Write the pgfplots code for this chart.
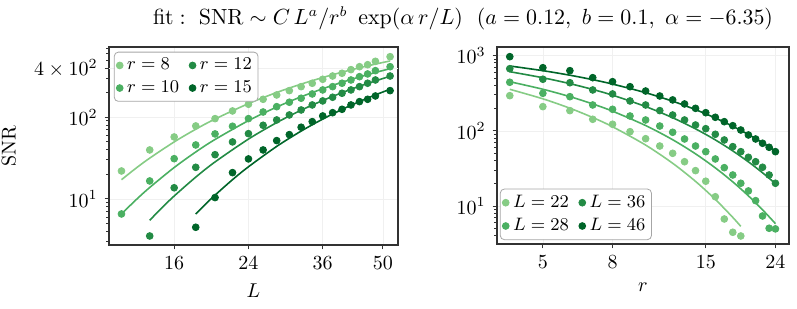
\documentclass[border=0pt]{standalone}
\usepackage{pgfplots}
\pgfplotsset{compat=1.18}
\definecolor{g1}{RGB}{134,204,133}
\definecolor{g2}{RGB}{75,176,98}
\definecolor{g3}{RGB}{35,139,69}
\definecolor{g4}{RGB}{0,101,41}
\definecolor{framec}{RGB}{50,50,50}
\pgfplotsset{
  fitl/.style={line width=0.8pt, smooth, no marks, forget plot},
  pts/.style={only marks, mark=*, mark size=1.7pt},
}
\begin{document}
\begin{tikzpicture}
\path[use as bounding box] (0,0) rectangle (398.5pt,154.5pt);
\node[font=\fontsize{10.5}{12}\selectfont] at (231.5pt,145.5pt)
 {$\mathrm{fit}:\ \mathrm{SNR}\sim C\,L^{a}/r^{b}\ \exp(\alpha\, r/L)\ \ (a=0.12,\ b=0.1,\ \alpha=-6.35)$};
% ---------------- left panel ----------------
\begin{axis}[scale only axis, xmode=log, ymode=log,
  axis line style={framec, line width=0.65pt},
  tick align=outside, xtick pos=left, ytick pos=left,
  major tick length=2.2pt, minor tick length=1.3pt,
  tick style={framec, line width=0.5pt},
  grid=major, major grid style={gray!12, line width=0.3pt},
  xminorticks=false,
  tick label style={font=\fontsize{10}{12}\selectfont},
  label style={font=\fontsize{10}{12}\selectfont},
  legend style={draw=gray!70, rounded corners=2pt, fill=white, inner sep=1pt,
    font=\fontsize{8.8}{10.5}\selectfont, at={(0.017,0.976)}, anchor=north west,
    /tikz/every even column/.append style={column sep=3pt}},
  legend cell align=left, legend columns=2,
  at={(54.5pt,32pt)}, anchor=south west,
  width=144.5pt, height=99pt,
  xmin=11.21, xmax=54.3, ymin=2.73, ymax=725,
  xtick={16,24,36,50}, xticklabels={16,24,36,50},
  ytick={10,100}, yticklabels={$10^{1}$,$10^{2}$},
  extra y ticks={400}, extra y tick labels={$4\times10^{2}$},
  minor ytick={3,4,5,6,7,8,9,20,30,40,50,60,70,80,90,200,300,500,600,700},
  xlabel={$L$}, ylabel={SNR},
]
\addplot[fitl, g1] coordinates {(12,17.2)(13,23.87)(14,31.6)(16,49.9)(18,71.4)(20,95.2)(24,146.9)(28,201.1)(32,254.5)(36,306.6)(40,356.2)(44,403.2)(48,447.5)(52,489.2)};
\addplot[fitl, g2] coordinates {(12,6.55)(13,9.79)(14,13.81)(16,24.24)(18,37.58)(20,53.47)(24,90.97)(28,133.4)(32,178.1)(36,223.4)(40,268.1)(44,311.5)(48,353.4)(52,393.6)};
\addplot[fitl, g3] coordinates {(14,5.48)(15,7.89)(16,10.86)(18,18.50)(20,28.39)(24,54.08)(28,86.0)(32,122.0)(36,160.4)(40,199.9)(44,239.6)(48,278.8)(52,317.5)};
\addplot[fitl, g4] coordinates {(18,6.54)(19,8.66)(20,11.13)(22,17.21)(24,24.76)(28,43.98)(32,67.73)(36,95.0)(40,124.7)(44,155.8)(48,187.9)(52,220.4)};
\addplot[pts, g1] coordinates {(12,22.0)(14,39.8)(16,57.4)(18,78.3)(20,96.2)(22,119.5)(24,144.3)(26,166)(28,187.5)(30,211.8)(32,237)(34,260.8)(36,291.7)(38,320)(40,345.6)(42,382.8)(44,416)(46,440)(48,484)(52,551.6)};
\addlegendentry{$r=8$}
\addplot[pts, g3] coordinates {(14,3.52)(16,13.7)(18,24.4)(20,34.8)(22,49.9)(24,63)(26,79.8)(28,92.7)(30,106.7)(32,122.8)(34,141.5)(36,158.5)(38,175.8)(40,196.8)(42,216)(44,237)(46,261)(48,286)(52,320)};
\addlegendentry{$r=12$}
\addplot[pts, g2] coordinates {(12,6.55)(14,16.6)(16,31.1)(18,45.8)(20,62.5)(22,77.6)(24,96.2)(26,116)(28,134.8)(30,152.8)(32,171)(34,192.9)(36,216)(38,237)(40,261)(42,286)(44,314)(46,339)(48,372)(52,416)};
\addlegendentry{$r=10$}
\addplot[pts, g4] coordinates {(18,4.5)(20,10.4)(22,21.0)(24,30.9)(26,39.8)(28,51.8)(30,61.3)(32,75.5)(34,88.4)(36,103.8)(38,113.8)(40,125.2)(42,141.5)(44,155.4)(46,166)(48,182.3)(52,212)};
\addlegendentry{$r=15$}
\end{axis}
% ---------------- right panel ----------------
\begin{axis}[scale only axis, xmode=log, ymode=log,
  axis line style={framec, line width=0.65pt},
  tick align=outside, xtick pos=left, ytick pos=left,
  major tick length=2.2pt, minor tick length=1.3pt,
  tick style={framec, line width=0.5pt},
  grid=major, major grid style={gray!12, line width=0.3pt},
  xminorticks=false,
  tick label style={font=\fontsize{10}{12}\selectfont},
  label style={font=\fontsize{10}{12}\selectfont},
  legend style={draw=gray!70, rounded corners=2pt, fill=white, inner sep=1pt,
    font=\fontsize{8.8}{10.5}\selectfont, at={(0.01,0.02)}, anchor=south west,
    /tikz/every even column/.append style={column sep=3pt}},
  legend cell align=left, legend columns=2,
  at={(248.5pt,32.5pt)}, anchor=south west,
  width=146pt, height=98.5pt,
  xmin=3.67, xmax=26.3, ymin=3.13, ymax=1305,
  xtick={5,8,15,24}, xticklabels={5,8,15,24},
  ytick={10,100,1000}, yticklabels={$10^{1}$,$10^{2}$,$10^{3}$},
  minor ytick={4,5,6,7,8,9,20,30,40,50,60,70,80,90,200,300,400,500,600,700,800,900},
  xlabel={$r$},
]
\addplot[fitl, g1] coordinates {(4,357.3)(5,266.9)(6,200.1)(7,150.5)(8,113.5)(10,64.74)(12,37.09)(14,21.31)(16,12.27)(18,7.07)(19,5.37)};
\addplot[fitl, g2] coordinates {(4,450.8)(5,357.9)(6,285.4)(7,228.2)(8,182.8)(10,117.8)(12,76.27)(14,49.5)(16,32.2)(18,20.98)(20,13.68)(22,8.93)(24,5.84)};
\addplot[fitl, g3] coordinates {(4,612.4)(5,508.9)(6,424.9)(7,355.6)(8,298.3)(10,210.7)(12,149.5)(14,106.4)(16,75.86)(18,54.18)(20,38.73)(22,27.73)(24,19.86)};
\addplot[fitl, g4] coordinates {(4,729.5)(5,632.0)(6,549.9)(7,479.7)(8,419.3)(10,321.8)(12,248.0)(14,191.7)(16,148.4)(18,115.2)(20,89.43)(22,69.54)(24,54.11)};
\addplot[pts, g1] coordinates {(4,294)(5,210)(6,186)(7,142.6)(8,122.4)(9,97.6)(10,78.7)(11,62.9)(12,50.3)(13,38.9)(14,29.6)(15,21.4)(16,13.3)(17,6.73)(18,4.48)(19,4.0)};
\addlegendentry{$L=22$}
\addplot[pts, g3] coordinates {(4,671)(5,486)(6,437)(7,350)(8,310)(9,250)(10,221)(11,186)(12,162.6)(13,139.6)(14,119.7)(15,106.9)(16,90.1)(17,75.7)(18,61.7)(19,52.9)(20,44.5)(21,38.9)(22,32.8)(23,25.9)(24,20.1)};
\addlegendentry{$L=36$}
\addplot[pts, g2] coordinates {(4,443)(5,316)(6,285)(7,221)(8,193.6)(9,157.7)(10,139.6)(11,116)(12,95.8)(13,78)(14,62.9)(15,52.9)(16,42.3)(17,32.4)(18,25.9)(19,20.1)(20,15.9)(21,11.8)(22,7.38)(23,5.07)(24,4.97)};
\addlegendentry{$L=28$}
\addplot[pts, g4] coordinates {(4,970)(5,692)(6,632)(7,510)(8,451)(9,387)(10,339)(11,291)(12,258)(13,228)(14,199.5)(15,174.6)(16,151.6)(17,132.5)(18,117.2)(19,102.7)(20,88.2)(21,78)(22,68.4)(23,60.5)(24,52.9)};
\addlegendentry{$L=46$}
\end{axis}
\end{tikzpicture}
\end{document}
